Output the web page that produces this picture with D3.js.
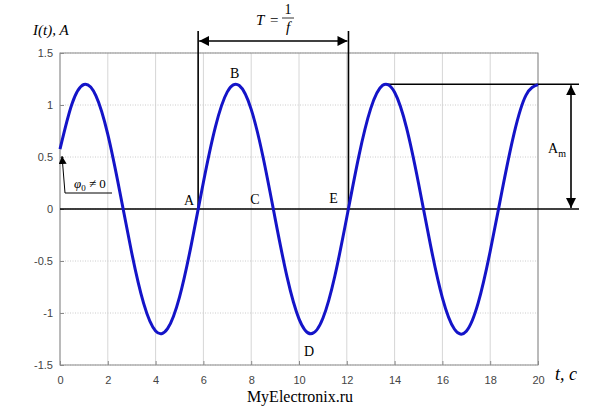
<!DOCTYPE html>
<html><head><meta charset="utf-8">
<script src="https://cdn.jsdelivr.net/npm/d3@7"></script>
<style>body{margin:0;background:#fff}svg{display:block}</style>
</head><body>
<script>
const tValues = [0,0.5,1,1.5,2,2.5,3,3.5,4,4.5,5,5.5,6,6.5,7,7.5,8,8.5,9,9.5,10,10.5,11,11.5,12,12.5,13,13.5,14,14.5,15,15.5,16,16.5,17,17.5,18,18.5,19,19.5,20];
const iValues = [0.575,1.010,1.197,1.091,0.718,0.169,-0.421,-0.908,-1.173,-1.151,-0.847,-0.335,0.258,0.788,1.126,1.187,0.958,0.495,-0.090,-0.653,-1.056,-1.200,-1.051,-0.644,-0.080,0.504,0.965,1.189,1.122,0.780,0.248,-0.345,-0.854,-1.154,-1.176,-0.901,-0.406,0.180,0.727,1.095,1.196];
const xTicks = [0,2,4,6,8,10,12,14,16,18,20];
const yTicks = [-1.5,-1,-0.5,0,0.5,1,1.5];
const amplitude = 1.2;
const tA = 5.78, tE = 12.07, tB = 7.35, tC = 8.2, tD = 10.5, tPeakStart = 13.6;

const W = 600, H = 412;
const svg = d3.select("body").append("svg").attr("width", W).attr("height", H);
const x = d3.scaleLinear().domain([0,20]).range([60,538]);
const y = d3.scaleLinear().domain([-1.5,1.5]).range([365,53]);

const defs = svg.append("defs");
defs.append("marker").attr("id","ah").attr("viewBox","0 0 10 10").attr("refX",10).attr("refY",5)
  .attr("markerWidth",10).attr("markerHeight",10).attr("markerUnits","userSpaceOnUse").attr("orient","auto-start-reverse")
  .append("path").attr("d","M0,0 L10,5 L0,10 z").attr("fill","#000");
defs.append("marker").attr("id","ah2").attr("viewBox","0 0 10 10").attr("refX",10).attr("refY",5)
  .attr("markerWidth",8).attr("markerHeight",8).attr("markerUnits","userSpaceOnUse").attr("orient","auto")
  .append("path").attr("d","M0,0 L10,5 L0,10 z").attr("fill","#000");

// grid
const g = svg.append("g");
g.selectAll(".vg").data(xTicks).join("line")
  .attr("x1",d=>x(d)).attr("x2",d=>x(d)).attr("y1",y(1.5)).attr("y2",y(-1.5))
  .attr("stroke","#d6d6d6").attr("stroke-width",1);
g.selectAll(".hg").data(yTicks).join("line")
  .attr("x1",x(0)).attr("x2",x(20)).attr("y1",d=>y(d)).attr("y2",d=>y(d))
  .attr("stroke","#cccccc").attr("stroke-width",1).attr("stroke-dasharray","1,1.5");
// box
svg.append("rect").attr("x",x(0)).attr("y",y(1.5)).attr("width",x(20)-x(0)).attr("height",y(-1.5)-y(1.5))
  .attr("fill","none").attr("stroke","#8a8a8a").attr("stroke-width",1);

// axes
const xAxis = d3.axisBottom(x).tickValues(xTicks).tickSize(-4).tickPadding(11).tickFormat(d3.format("d"));
const yAxis = d3.axisLeft(y).tickValues(yTicks).tickSize(-4).tickPadding(7).tickFormat(d=>String(d));
const ax = svg.append("g").attr("transform",`translate(0,${y(-1.5)})`).call(xAxis);
const ay = svg.append("g").attr("transform",`translate(${x(0)},0)`).call(yAxis);
[ax,ay].forEach(a=>{
  a.select(".domain").remove();
  a.selectAll(".tick line").attr("stroke","#8a8a8a");
  a.selectAll("text").attr("fill","#444").style("font-family","Liberation Sans, Arial, sans-serif").style("font-size","11px");
});

// zero line
svg.append("line").attr("x1",x(0)).attr("x2",579).attr("y1",y(0)).attr("y2",y(0)).attr("stroke","#000").attr("stroke-width",1.6);
// amplitude line
svg.append("line").attr("x1",x(tPeakStart)).attr("x2",579).attr("y1",y(amplitude)).attr("y2",y(amplitude)).attr("stroke","#000").attr("stroke-width",1.6);
// amplitude double arrow
svg.append("line").attr("x1",571).attr("x2",571).attr("y1",y(amplitude)+1).attr("y2",y(0)-1)
  .attr("stroke","#000").attr("stroke-width",1.6).attr("marker-start","url(#ah)").attr("marker-end","url(#ah)");
// period verticals
[tA,tE].forEach(t=>{
  svg.append("line").attr("x1",x(t)).attr("x2",x(t)).attr("y1",31).attr("y2",y(0)).attr("stroke","#000").attr("stroke-width",1.6);
});
svg.append("line").attr("x1",x(tA)+1).attr("x2",x(tE)-1).attr("y1",41).attr("y2",41)
  .attr("stroke","#000").attr("stroke-width",1.6).attr("marker-start","url(#ah)").attr("marker-end","url(#ah)");

// curve
const pts = tValues.map((t,i)=>[t,iValues[i]]);
svg.append("path").datum(pts)
  .attr("d",d3.line().x(d=>x(d[0])).y(d=>y(d[1])).curve(d3.curveNatural))
  .attr("fill","none").attr("stroke","#1414c8").attr("stroke-width",3);

// phi annotation
svg.append("path").attr("d",`M112,193 L65,193 L62,156`).attr("fill","none").attr("stroke","#000").attr("stroke-width",1)
  .attr("marker-end","url(#ah2)");

const serif = "Liberation Serif, Times New Roman, serif";
function txt(xp,yp,s,size,opts={}){
  const t = svg.append("text").attr("x",xp).attr("y",yp).style("font-family",serif).style("font-size",size+"px").attr("fill","#000");
  if(opts.italic) t.style("font-style","italic");
  if(opts.anchor) t.attr("text-anchor",opts.anchor);
  t.text(s); return t;
}
// y title
txt(33,35,"I(t), A",15,{italic:true});
// x title
txt(555,380,"t, c",18,{italic:true});
// watermark
txt(300,402,"MyElectronix.ru",16,{anchor:"middle"});
// point labels
txt(x(tA)-9,205,"A",14,{anchor:"middle"});
txt(x(tB)-1,78,"B",14,{anchor:"middle"});
txt(x(tC)-1,204,"C",14,{anchor:"middle"});
txt(x(tE)-15,203,"E",14,{anchor:"middle"});
txt(x(tD)-2,356,"D",14,{anchor:"middle"});
// A_m
const am = txt(548,153,"A",14);
am.append("tspan").attr("dy",4).style("font-size","10px").text("m");
// phi label
const ph = txt(74,188,"φ",13,{italic:true});
ph.append("tspan").attr("dy",3).style("font-size","9px").style("font-style","normal").text("0");
ph.append("tspan").attr("dy",-3).style("font-style","normal").text(" ≠ 0");
// T = 1/f
txt(256,25,"T",15,{italic:true});
txt(270,25,"=",15);
txt(288,14,"1",14,{anchor:"middle"});
svg.append("line").attr("x1",282).attr("x2",294).attr("y1",18).attr("y2",18).attr("stroke","#000").attr("stroke-width",0.8);
txt(288,32,"f",15,{italic:true,anchor:"middle"});
</script>
</body></html>
